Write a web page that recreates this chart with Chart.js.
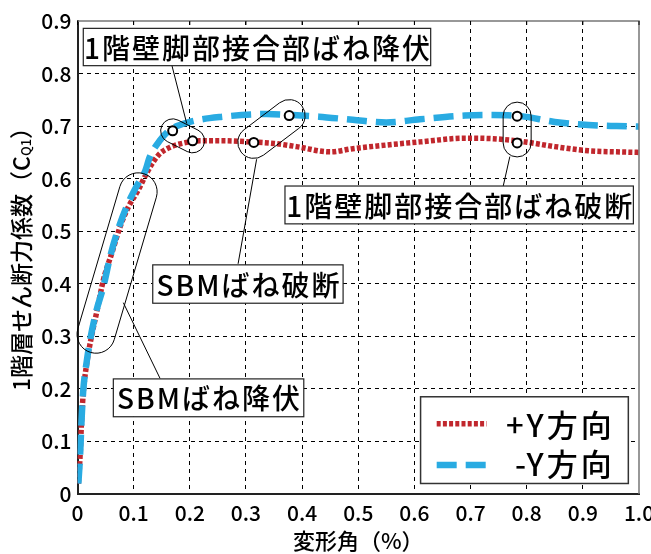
<!DOCTYPE html>
<html><head><meta charset="utf-8">
<script src="https://cdn.jsdelivr.net/npm/chart.js@4.4.1/dist/chart.umd.min.js"></script>
<style>html,body{margin:0;padding:0;background:#fff;}canvas{display:block;}</style>
</head><body>
<canvas id="c" width="651" height="554"></canvas>
<script>
// ---- data ----
const xTickLabels = ['0','0.1','0.2','0.3','0.4','0.5','0.6','0.7','0.8','0.9','1.0'];
const yTickLabels = ['0','0.1','0.2','0.3','0.4','0.5','0.6','0.7','0.8','0.9'];
const seriesNames = ['+Y方向','-Y方向'];
const plusX  = [0.0015,0.0045,0.0075,0.0105,0.016,0.024,0.035,0.046,0.061,0.076,0.091,0.108,0.123,0.135,0.147,0.165,0.19,0.218,0.26,0.307,0.35,0.39,0.45,0.49,0.55,0.61,0.69,0.74,0.79,0.85,0.91,0.96,1.0];
const plusY  = [0.02,0.07,0.145,0.195,0.245,0.295,0.35,0.407,0.458,0.509,0.547,0.578,0.61,0.632,0.648,0.66,0.668,0.672,0.672,0.670,0.667,0.661,0.651,0.657,0.664,0.670,0.677,0.676,0.671,0.661,0.653,0.651,0.650];
const minusX = [0.0015,0.0045,0.0075,0.0103,0.016,0.0235,0.034,0.046,0.058,0.07,0.0876,0.105,0.12,0.129,0.147,0.165,0.2,0.26,0.337,0.384,0.43,0.49,0.55,0.61,0.69,0.74,0.79,0.85,0.91,0.96,1.0];
const minusY = [0.02,0.071,0.147,0.198,0.249,0.299,0.35,0.394,0.451,0.496,0.547,0.585,0.613,0.642,0.673,0.693,0.708,0.718,0.723,0.721,0.718,0.712,0.707,0.713,0.72,0.721,0.719,0.708,0.702,0.700,0.699];
const markerX = [0.1695,0.205,0.314,0.377,0.783,0.783];
const markerY = [0.691,0.672,0.669,0.720,0.719,0.668];
const labelTexts = ['1階壁脚部接合部ばね降伏','1階壁脚部接合部ばね破断','SBMばね破断','SBMばね降伏'];

// ---- annotation layout (axis units) ----
const FONT = '"Noto Sans CJK JP", "Noto Sans", sans-serif';
const boxes = [
  {x0:0.0103, x1:0.629, y0:0.886, y1:0.815},
  {x0:0.3695, x1:0.990, y0:0.586, y1:0.514},
  {x0:0.134,  x1:0.473, y0:0.436, y1:0.363},
  {x0:0.0638, x1:0.403, y0:0.219, y1:0.147}
];
const capsules = [
  {a:[0.1695,0.691], b:[0.205,0.672], r:12},
  {a:[0.314,0.669], b:[0.377,0.720], r:16},
  {a:[0.783,0.719], b:[0.783,0.668], r:14},
  {a:[0.033,0.304], b:[0.108,0.575], r:19}
];
const leaders = [
  [[0.168,0.816],[0.1945,0.705]],
  [[0.319,0.637],[0.286,0.438]],
  [[0.770,0.642],[0.758,0.585]],
  [[0.0816,0.364],[0.147,0.220]]
];
const legendBox = {x0:0.611, x1:0.981, y0:0.185, y1:0.020, sx0:0.6397, sx1:0.7288, tx:0.9514, ys:[0.1336,0.0552], ty:[0.1332,0.059]};

const colors = ['#c1272d', '#29abe2'];
const dashes = [[4,2.2],[20,9]];
const widths = [5.5,6.5];

const annot = {
  id:'annot',
  afterDatasetsDraw(chart){
    const ctx = chart.ctx, X = v=>chart.scales.x.getPixelForValue(v), Y = v=>chart.scales.y.getPixelForValue(v);
    ctx.save();
    ctx.strokeStyle='#000'; ctx.lineWidth=1;
    capsules.forEach(c=>{
      const ax=X(c.a[0]), ay=Y(c.a[1]), bx=X(c.b[0]), by=Y(c.b[1]);
      const ang=Math.atan2(by-ay,bx-ax);
      ctx.beginPath();
      ctx.arc(bx,by,c.r,ang-Math.PI/2,ang+Math.PI/2);
      ctx.arc(ax,ay,c.r,ang+Math.PI/2,ang+3*Math.PI/2);
      ctx.closePath(); ctx.stroke();
    });
    leaders.forEach(l=>{
      ctx.beginPath(); ctx.moveTo(X(l[0][0]),Y(l[0][1])); ctx.lineTo(X(l[1][0]),Y(l[1][1])); ctx.stroke();
    });
    ctx.lineWidth=2;
    markerX.forEach((mx,i)=>{
      ctx.beginPath(); ctx.arc(X(mx),Y(markerY[i]),4.5,0,Math.PI*2);
      ctx.fillStyle='#fff'; ctx.fill(); ctx.stroke();
    });
    boxes.forEach((b,i)=>{
      const x0=X(b.x0), x1=X(b.x1), y0=Y(b.y0), y1=Y(b.y1);
      ctx.fillStyle='#fff'; ctx.fillRect(x0,y0,x1-x0,y1-y0);
      ctx.lineWidth=1.2; ctx.strokeStyle='#222'; ctx.strokeRect(x0,y0,x1-x0,y1-y0);
      ctx.fillStyle='#000'; ctx.font='500 28px '+FONT; ctx.textBaseline='middle'; ctx.textAlign='left';
      ctx.letterSpacing='2px';
      const w=ctx.measureText(labelTexts[i]).width;
      ctx.fillText(labelTexts[i],(x0+x1)/2-w/2+1,(y0+y1)/2+1);
      ctx.letterSpacing='0px';
    });
    const L=legendBox;
    const lx0=X(L.x0), lx1=X(L.x1), ly0=Y(L.y0), ly1=Y(L.y1);
    ctx.fillStyle='#fff'; ctx.fillRect(lx0,ly0,lx1-lx0,ly1-ly0);
    ctx.lineWidth=1.5; ctx.strokeStyle='#333'; ctx.strokeRect(lx0,ly0,lx1-lx0,ly1-ly0);
    chart.data.datasets.forEach((ds,i)=>{
      ctx.save();
      ctx.strokeStyle=ds.borderColor; ctx.lineWidth=ds.borderWidth; ctx.setLineDash(ds.borderDash); ctx.lineCap='butt';
      ctx.beginPath(); ctx.moveTo(X(L.sx0),Y(L.ys[i])); ctx.lineTo(X(L.sx1),Y(L.ys[i])); ctx.stroke();
      ctx.restore();
      ctx.fillStyle='#000'; ctx.font='500 31px '+FONT; ctx.textAlign='right'; ctx.textBaseline='middle';
      ctx.letterSpacing='3px';
      ctx.fillText(ds.label,X(L.tx)+3,Y(L.ty[i])+1);
      ctx.letterSpacing='0px';
    });
    ctx.restore();
  },
  afterDraw(chart){
    const ctx=chart.ctx, a=chart.chartArea, xs=chart.scales.x;
    ctx.save();
    ctx.strokeStyle='#777'; ctx.lineWidth=1.5;
    ctx.beginPath(); ctx.moveTo(a.left,a.top); ctx.lineTo(a.right,a.top); ctx.lineTo(a.right,a.bottom); ctx.stroke();
    ctx.strokeStyle='#000'; ctx.lineWidth=1;
    xs.ticks.forEach(t=>{const p=xs.getPixelForValue(t.value); ctx.beginPath(); ctx.moveTo(p,a.top); ctx.lineTo(p,a.top+4); ctx.stroke();});
    ctx.fillStyle='#000'; ctx.font='500 22px '+FONT; ctx.textAlign='center'; ctx.textBaseline='middle';
    ctx.fillText('変形角（%）',(a.left+a.right)/2,541);
    ctx.translate(21,(a.top+a.bottom)/2-4); ctx.rotate(-Math.PI/2);
    const main='1階層せん断力係数（C', sub='Q1', end='）';
    const F1='500 23px '+FONT, F2='500 13px '+FONT;
    ctx.font=F1; const w1=ctx.measureText(main).width, w3=ctx.measureText(end).width;
    ctx.font=F2; const w2=ctx.measureText(sub).width;
    let x=-(w1+w2+w3)/2;
    ctx.textAlign='left';
    ctx.font=F1; ctx.fillText(main,x,0); x+=w1;
    ctx.font=F2; ctx.fillText(sub,x,5); x+=w2;
    ctx.font=F1; ctx.fillText(end,x,0);
    ctx.restore();
  }
};

const mk=(xs,ys)=>xs.map((v,i)=>({x:v,y:ys[i]}));
new Chart(document.getElementById('c'),{
  type:'line',
  data:{datasets:[
    {label:seriesNames[0],data:mk(plusX,plusY),borderColor:colors[0],borderWidth:widths[0],borderDash:dashes[0],pointRadius:0,fill:false,cubicInterpolationMode:'monotone',order:1,borderCapStyle:'butt'},
    {label:seriesNames[1],data:mk(minusX,minusY),borderColor:colors[1],borderWidth:widths[1],borderDash:dashes[1],pointRadius:0,fill:false,cubicInterpolationMode:'monotone',order:0,borderCapStyle:'butt'}
  ]},
  options:{
    responsive:false,animation:false,
    layout:{padding:{left:0,top:21,right:12,bottom:0}},
    plugins:{legend:{display:false},tooltip:{enabled:false}},
    scales:{
      x:{type:'linear',min:0,max:1,
        afterBuildTicks:s=>{s.ticks=xTickLabels.map((l,i)=>({value:i/10}));},
        afterFit:s=>{s.height=60;s.paddingLeft=0;s.paddingRight=0;},
        ticks:{callback:(v,i)=>xTickLabels[i],font:{family:FONT,size:21,weight:'500'},color:'#000',padding:6,maxRotation:0,autoSkip:false},
        grid:{drawTicks:false,lineWidth:1,color:c=>(c.tick&&Math.abs(c.tick.value-1)<1e-9)?'rgba(0,0,0,0)':'#000'},
        border:{display:true,color:'#222',width:2,dash:[4,4]}
      },
      y:{type:'linear',min:0,max:0.9,
        afterBuildTicks:s=>{s.ticks=yTickLabels.map((l,i)=>({value:i/10}));},
        afterFit:s=>{s.width=77.5;},
        ticks:{callback:(v,i)=>yTickLabels[i],font:{family:FONT,size:21,weight:'500'},color:'#000',padding:6,autoSkip:false},
        grid:{drawTicks:false,lineWidth:1,color:c=>(c.tick&&Math.abs(c.tick.value-0.9)<1e-9)?'rgba(0,0,0,0)':'#000'},
        border:{display:true,color:'#222',width:2,dash:[4,4]}
      }
    }
  },
  plugins:[annot]
});
</script>
</body></html>
